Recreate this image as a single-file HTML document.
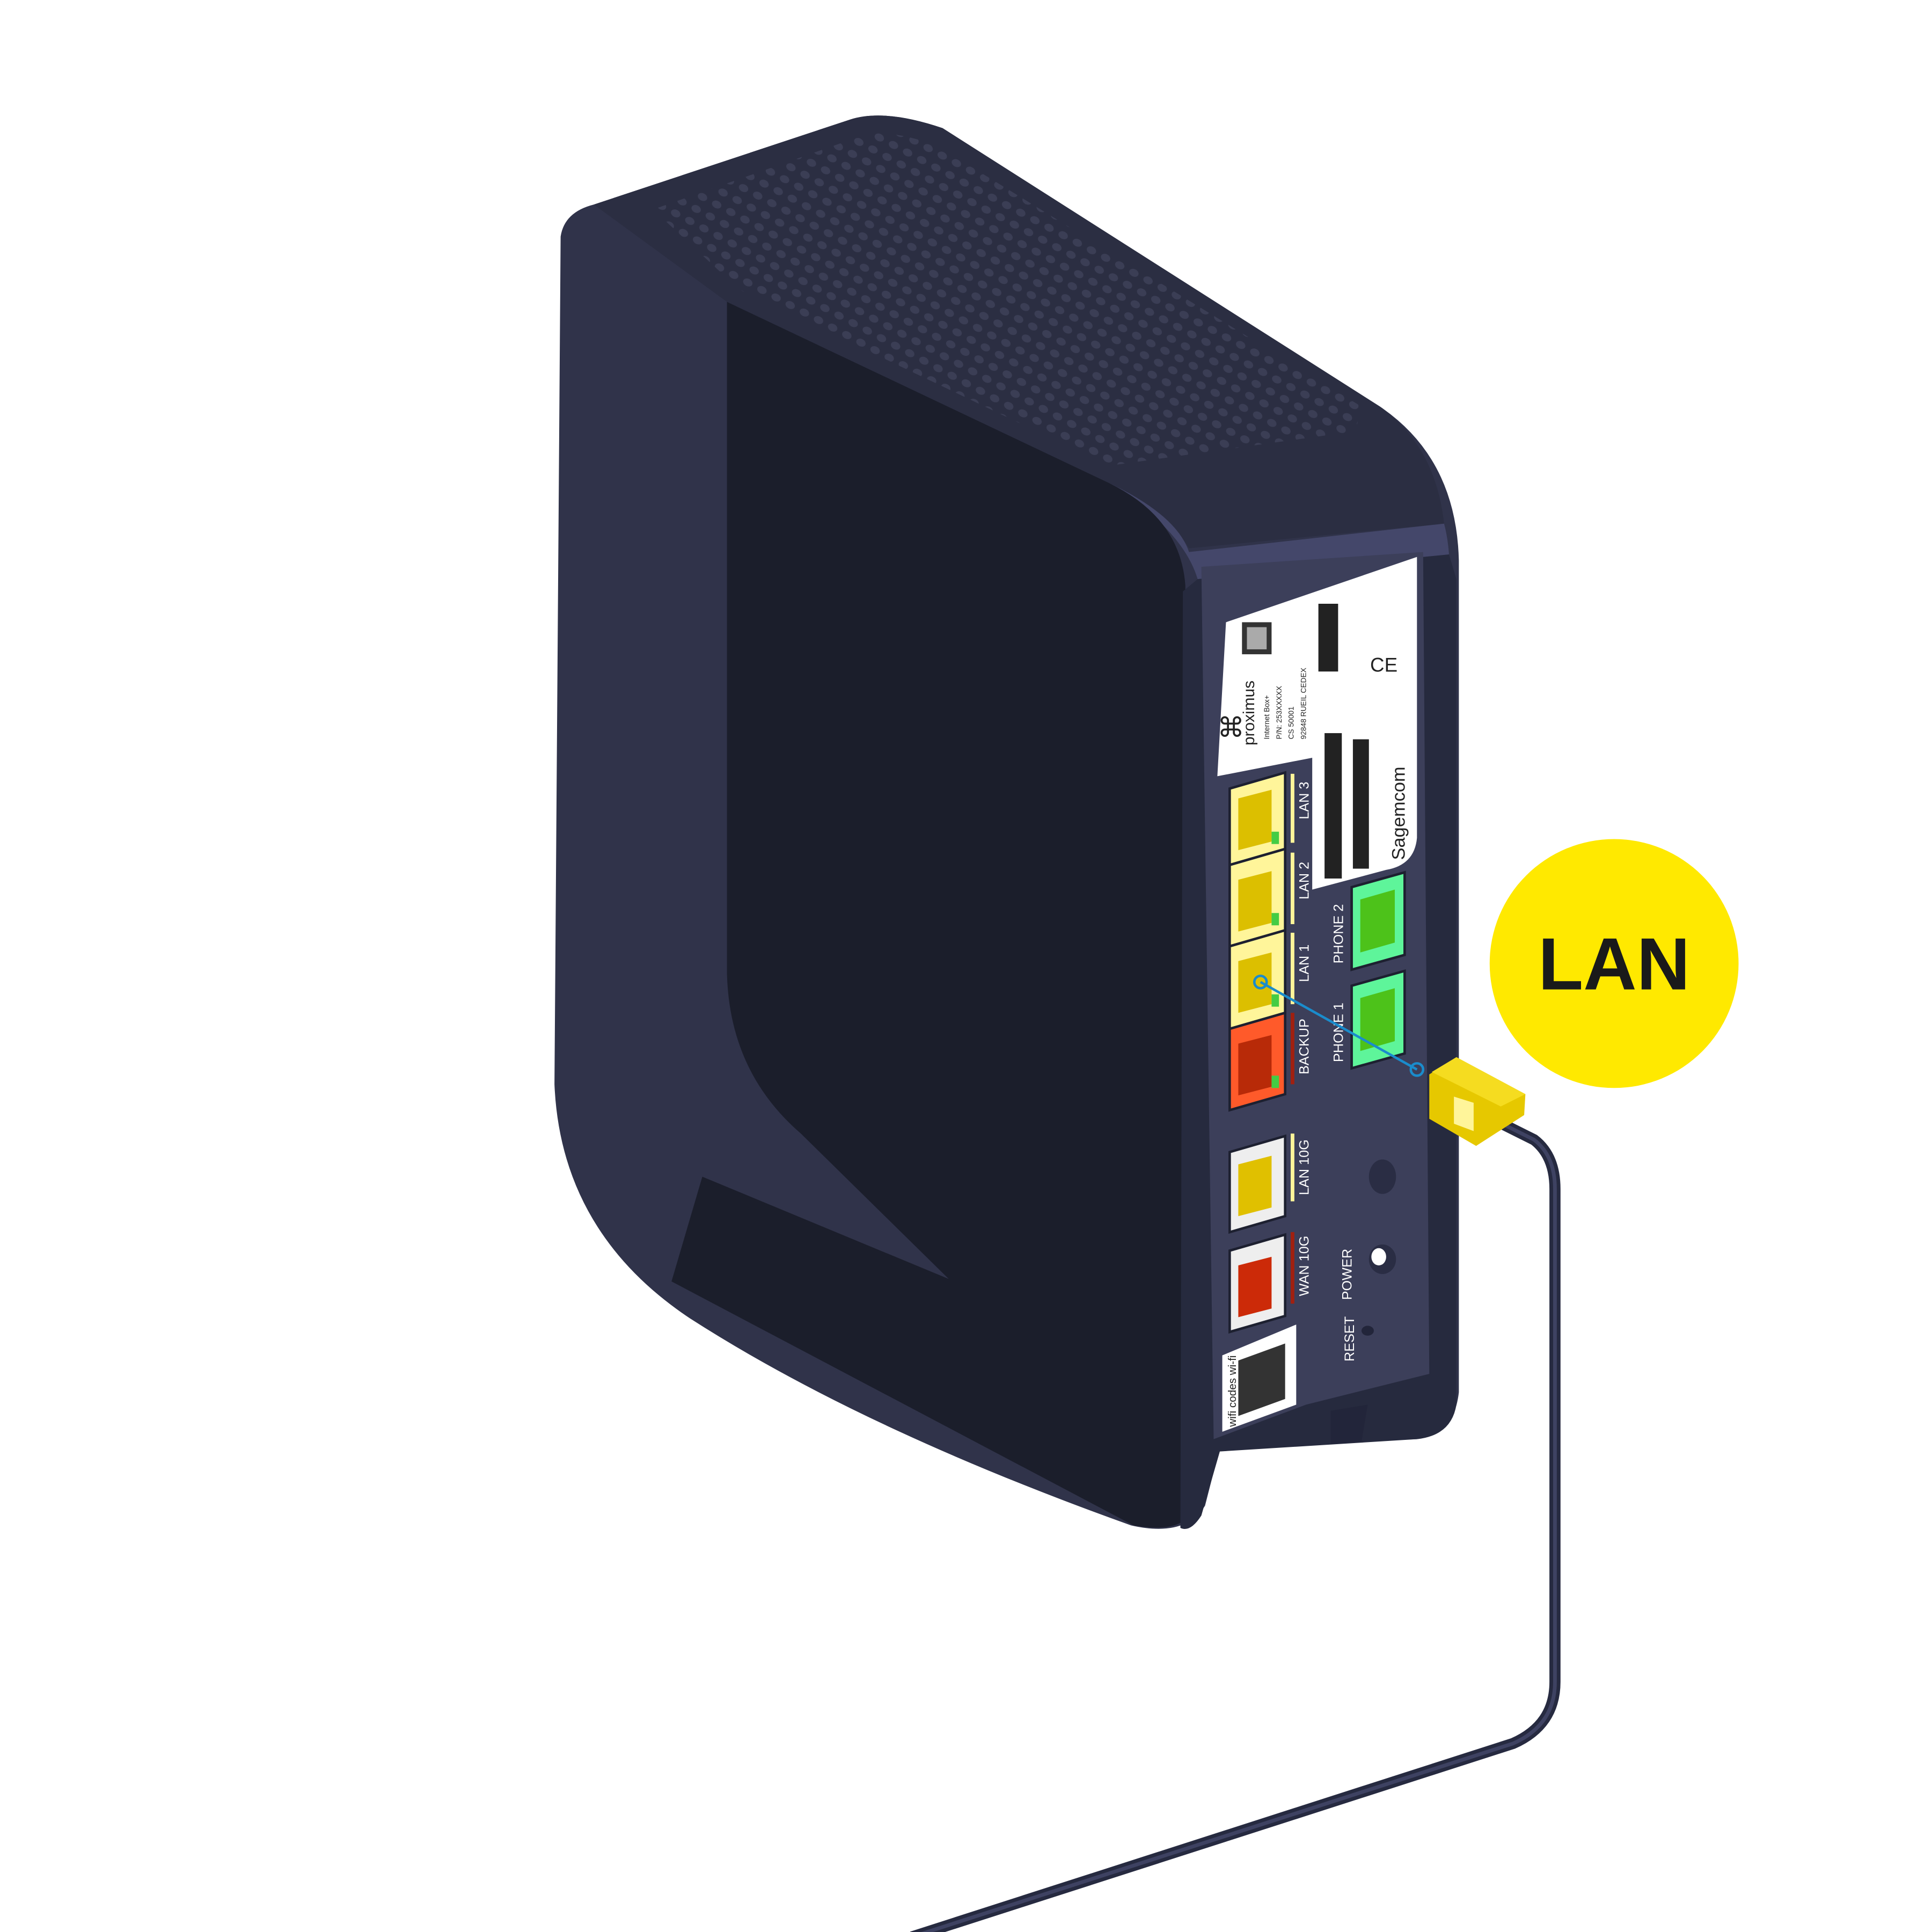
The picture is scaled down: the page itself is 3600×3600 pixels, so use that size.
<!DOCTYPE html>
<html><head><meta charset="utf-8"><style>html,body{margin:0;padding:0;background:#fff}svg{display:block}</style></head>
<body>
<svg width="3600" height="3600" viewBox="0 0 1568 1568" xmlns="http://www.w3.org/2000/svg" font-family="Liberation Sans, sans-serif">
<defs>
<pattern id="dots" width="13" height="11" patternUnits="userSpaceOnUse" patternTransform="rotate(28)">
<rect width="13" height="11" fill="#2b2e42"/>
<ellipse cx="6.5" cy="5.5" rx="4" ry="3" fill="#3b3e55"/>
</pattern>
</defs>
<!-- body silhouette -->
<path d="M455,192 Q458,172 482,166 L690,97 Q718,88 765,104 L1120,330 Q1182,372 1184,455 L1184,1130 Q1180,1165 1150,1168 L990,1175 L978,1222 Q962,1248 918,1238 Q700,1160 560,1070 Q455,1000 450,880 Z" fill="#30334a"/>
<!-- top perforated face -->
<path d="M482,166 L690,97 Q718,88 765,104 L1120,330 Q1165,362 1172,425 L965,445 Q945,412 900,392 L590,245 Z" fill="#2b2e42"/>
<path d="M530,170 L700,110 Q720,104 760,118 L1105,330 L1100,350 L900,378 L600,235 Z" fill="url(#dots)"/>
<path d="M900,392 Q955,418 965,448 L1172,425 Q1175,436 1176,450 L972,470 Q960,430 900,392Z" fill="#44476a"/>
<!-- front dark face -->
<path d="M590,245 L900,392 Q958,420 962,475 L968,1225 Q960,1245 920,1238 L545,1040 L570,955 L770,1038 L650,920 Q592,870 590,790 Z" fill="#1b1e2b"/>
<!-- back panel frame -->
<path d="M972,470 L1176,450 L1182,470 L1182,1140 Q1178,1165 1150,1168 L990,1178 L975,1230 Q966,1244 958,1240 L960,480 Z" fill="#262a3e"/>
<path d="M975,460 L1155,448 L1160,1115 L1060,1140 L985,1168 Z" fill="#3c3f5a"/>
<path d="M1080,1145 L1110,1140 L1105,1170 L1080,1172Z" fill="#22253a"/>
<!-- white label -->
<path d="M995,505 L1150,452 L1150,680 Q1148,702 1125,706 L1065,722 L1065,615 L988,630 Z" fill="#fff"/>
<g fill="#222" font-size="11">
<text transform="translate(1018,605) rotate(-90)" font-size="13">proximus</text>
<text transform="translate(1140,698) rotate(-90)" font-size="15">Sagemcom</text>
<text transform="translate(1030,600) rotate(-90)" font-size="6">Internet Box+</text>
<text transform="translate(1040,600) rotate(-90)" font-size="6">P/N: 253XXXXX</text>
<text transform="translate(1050,600) rotate(-90)" font-size="6">CS 50001</text>
<text transform="translate(1060,600) rotate(-90)" font-size="6">92848 RUEIL CEDEX</text>
<text x="988" y="598" font-size="22">⌘</text>
</g>
<rect x="1008" y="505" width="24" height="26" fill="#333"/>
<rect x="1012" y="509" width="16" height="18" fill="#aaa"/>
<rect x="1070" y="490" width="16" height="55" fill="#222"/>
<rect x="1075" y="595" width="14" height="118" fill="#222"/>
<rect x="1098" y="600" width="13" height="105" fill="#222"/>
<text x="1112" y="545" font-size="16" fill="#222">CE</text>
<!-- LAN ports -->
<g stroke="#1d2030" stroke-width="2">
<polygon points="998,640 1043,627 1043,689 998,702" fill="#fff59a"/>
<polygon points="998,702 1043,689 1043,755 998,768" fill="#fff59a"/>
<polygon points="998,768 1043,755 1043,822 998,835" fill="#fff59a"/>
<polygon points="998,835 1043,822 1043,888 998,901" fill="#ff5a2a"/>
<polygon points="998,935 1043,922 1043,987 998,1000" fill="#eeeeee"/>
<polygon points="998,1015 1043,1002 1043,1068 998,1081" fill="#eeeeee"/>
<polygon points="1097,720 1140,708 1140,775 1097,787" fill="#5ef59a"/>
<polygon points="1097,800 1140,788 1140,855 1097,867" fill="#5ef59a"/>
</g>
<g>
<polygon points="1005,648 1032,641 1032,683 1005,690" fill="#dcbf00"/>
<polygon points="1005,714 1032,707 1032,749 1005,756" fill="#dcbf00"/>
<polygon points="1005,780 1032,773 1032,815 1005,822" fill="#dcbf00"/>
<polygon points="1005,847 1032,840 1032,882 1005,889" fill="#b82a08"/>
<polygon points="1005,945 1032,938 1032,980 1005,987" fill="#e0c000"/>
<polygon points="1005,1027 1032,1020 1032,1062 1005,1069" fill="#cc2a08"/>
<polygon points="1104,730 1132,722 1132,765 1104,773" fill="#4dc21a"/>
<polygon points="1104,810 1132,802 1132,845 1104,853" fill="#4dc21a"/>
<rect x="1032" y="675" width="6" height="10" fill="#4c4"/>
<rect x="1032" y="741" width="6" height="10" fill="#4c4"/>
<rect x="1032" y="807" width="6" height="10" fill="#4c4"/>
<rect x="1032" y="873" width="6" height="10" fill="#4c4"/>
</g>
<!-- indicator lines -->
<g stroke-width="3">
<line x1="1049" y1="628" x2="1049" y2="684" stroke="#fff59a"/>
<line x1="1049" y1="692" x2="1049" y2="750" stroke="#fff59a"/>
<line x1="1049" y1="757" x2="1049" y2="815" stroke="#fff59a"/>
<line x1="1049" y1="822" x2="1049" y2="880" stroke="#a02010"/>
<line x1="1049" y1="920" x2="1049" y2="975" stroke="#fff59a"/>
<line x1="1049" y1="1000" x2="1049" y2="1058" stroke="#a02010"/>
</g>
<!-- port labels -->
<g fill="#fff" font-size="11">
<text transform="translate(1062,665) rotate(-90)">LAN 3</text>
<text transform="translate(1062,730) rotate(-90)">LAN 2</text>
<text transform="translate(1062,797) rotate(-90)">LAN 1</text>
<text transform="translate(1062,872) rotate(-90)">BACKUP</text>
<text transform="translate(1062,970) rotate(-90)">LAN 10G</text>
<text transform="translate(1062,1052) rotate(-90)">WAN 10G</text>
<text transform="translate(1090,782) rotate(-90)">PHONE 2</text>
<text transform="translate(1090,862) rotate(-90)">PHONE 1</text>
<text transform="translate(1097,1055) rotate(-90)">POWER</text>
<text transform="translate(1099,1105) rotate(-90)">RESET</text>
</g>
<ellipse cx="1122" cy="955" rx="11" ry="14" fill="#2a2d44"/>
<ellipse cx="1122" cy="1022" rx="11" ry="12" fill="#2a2d44"/>
<ellipse cx="1119" cy="1020" rx="6" ry="7" fill="#fff"/>
<ellipse cx="1110" cy="1080" rx="5" ry="4" fill="#22253a"/>
<!-- wifi QR sticker -->
<polygon points="992,1100 1052,1075 1052,1140 992,1162" fill="#fff"/>
<rect x="1005" y="1095" width="38" height="45" fill="#333" transform="skewY(-20) translate(0,375)"/>
<text transform="translate(1003,1158) rotate(-90)" font-size="9" fill="#222">wifi codes wi-fi</text>
<!-- cable -->
<path d="M1205,905 L1245,925 Q1262,938 1262,965 L1262,1365 Q1262,1400 1228,1415 L740,1572" fill="none" stroke="#262a40" stroke-width="9"/>
<path d="M1205,905 L1245,925 Q1262,938 1262,965 L1262,1365 Q1262,1400 1228,1415 L740,1572" fill="none" stroke="#3e4262" stroke-width="3"/>
<!-- plug -->
<polygon points="1160,872 1182,858 1238,888 1237,905 1198,930 1160,908" fill="#e6c800"/>
<polygon points="1182,858 1238,888 1218,898 1162,870" fill="#f5dc20"/>
<polygon points="1180,890 1196,895 1196,918 1180,912" fill="#fff59a"/>
<!-- blue pointer -->
<line x1="1023" y1="797" x2="1150" y2="868" stroke="#1a8ccc" stroke-width="2"/>
<circle cx="1023" cy="797" r="5" fill="none" stroke="#1a8ccc" stroke-width="2"/>
<circle cx="1150" cy="868" r="5" fill="none" stroke="#1a8ccc" stroke-width="2"/>
<!-- LAN badge -->
<circle cx="1310" cy="782" r="101" fill="#ffe900"/>
<text x="1310" y="803" text-anchor="middle" font-size="60" font-weight="bold" fill="#1a1a1a">LAN</text>
</svg>
</body></html>
